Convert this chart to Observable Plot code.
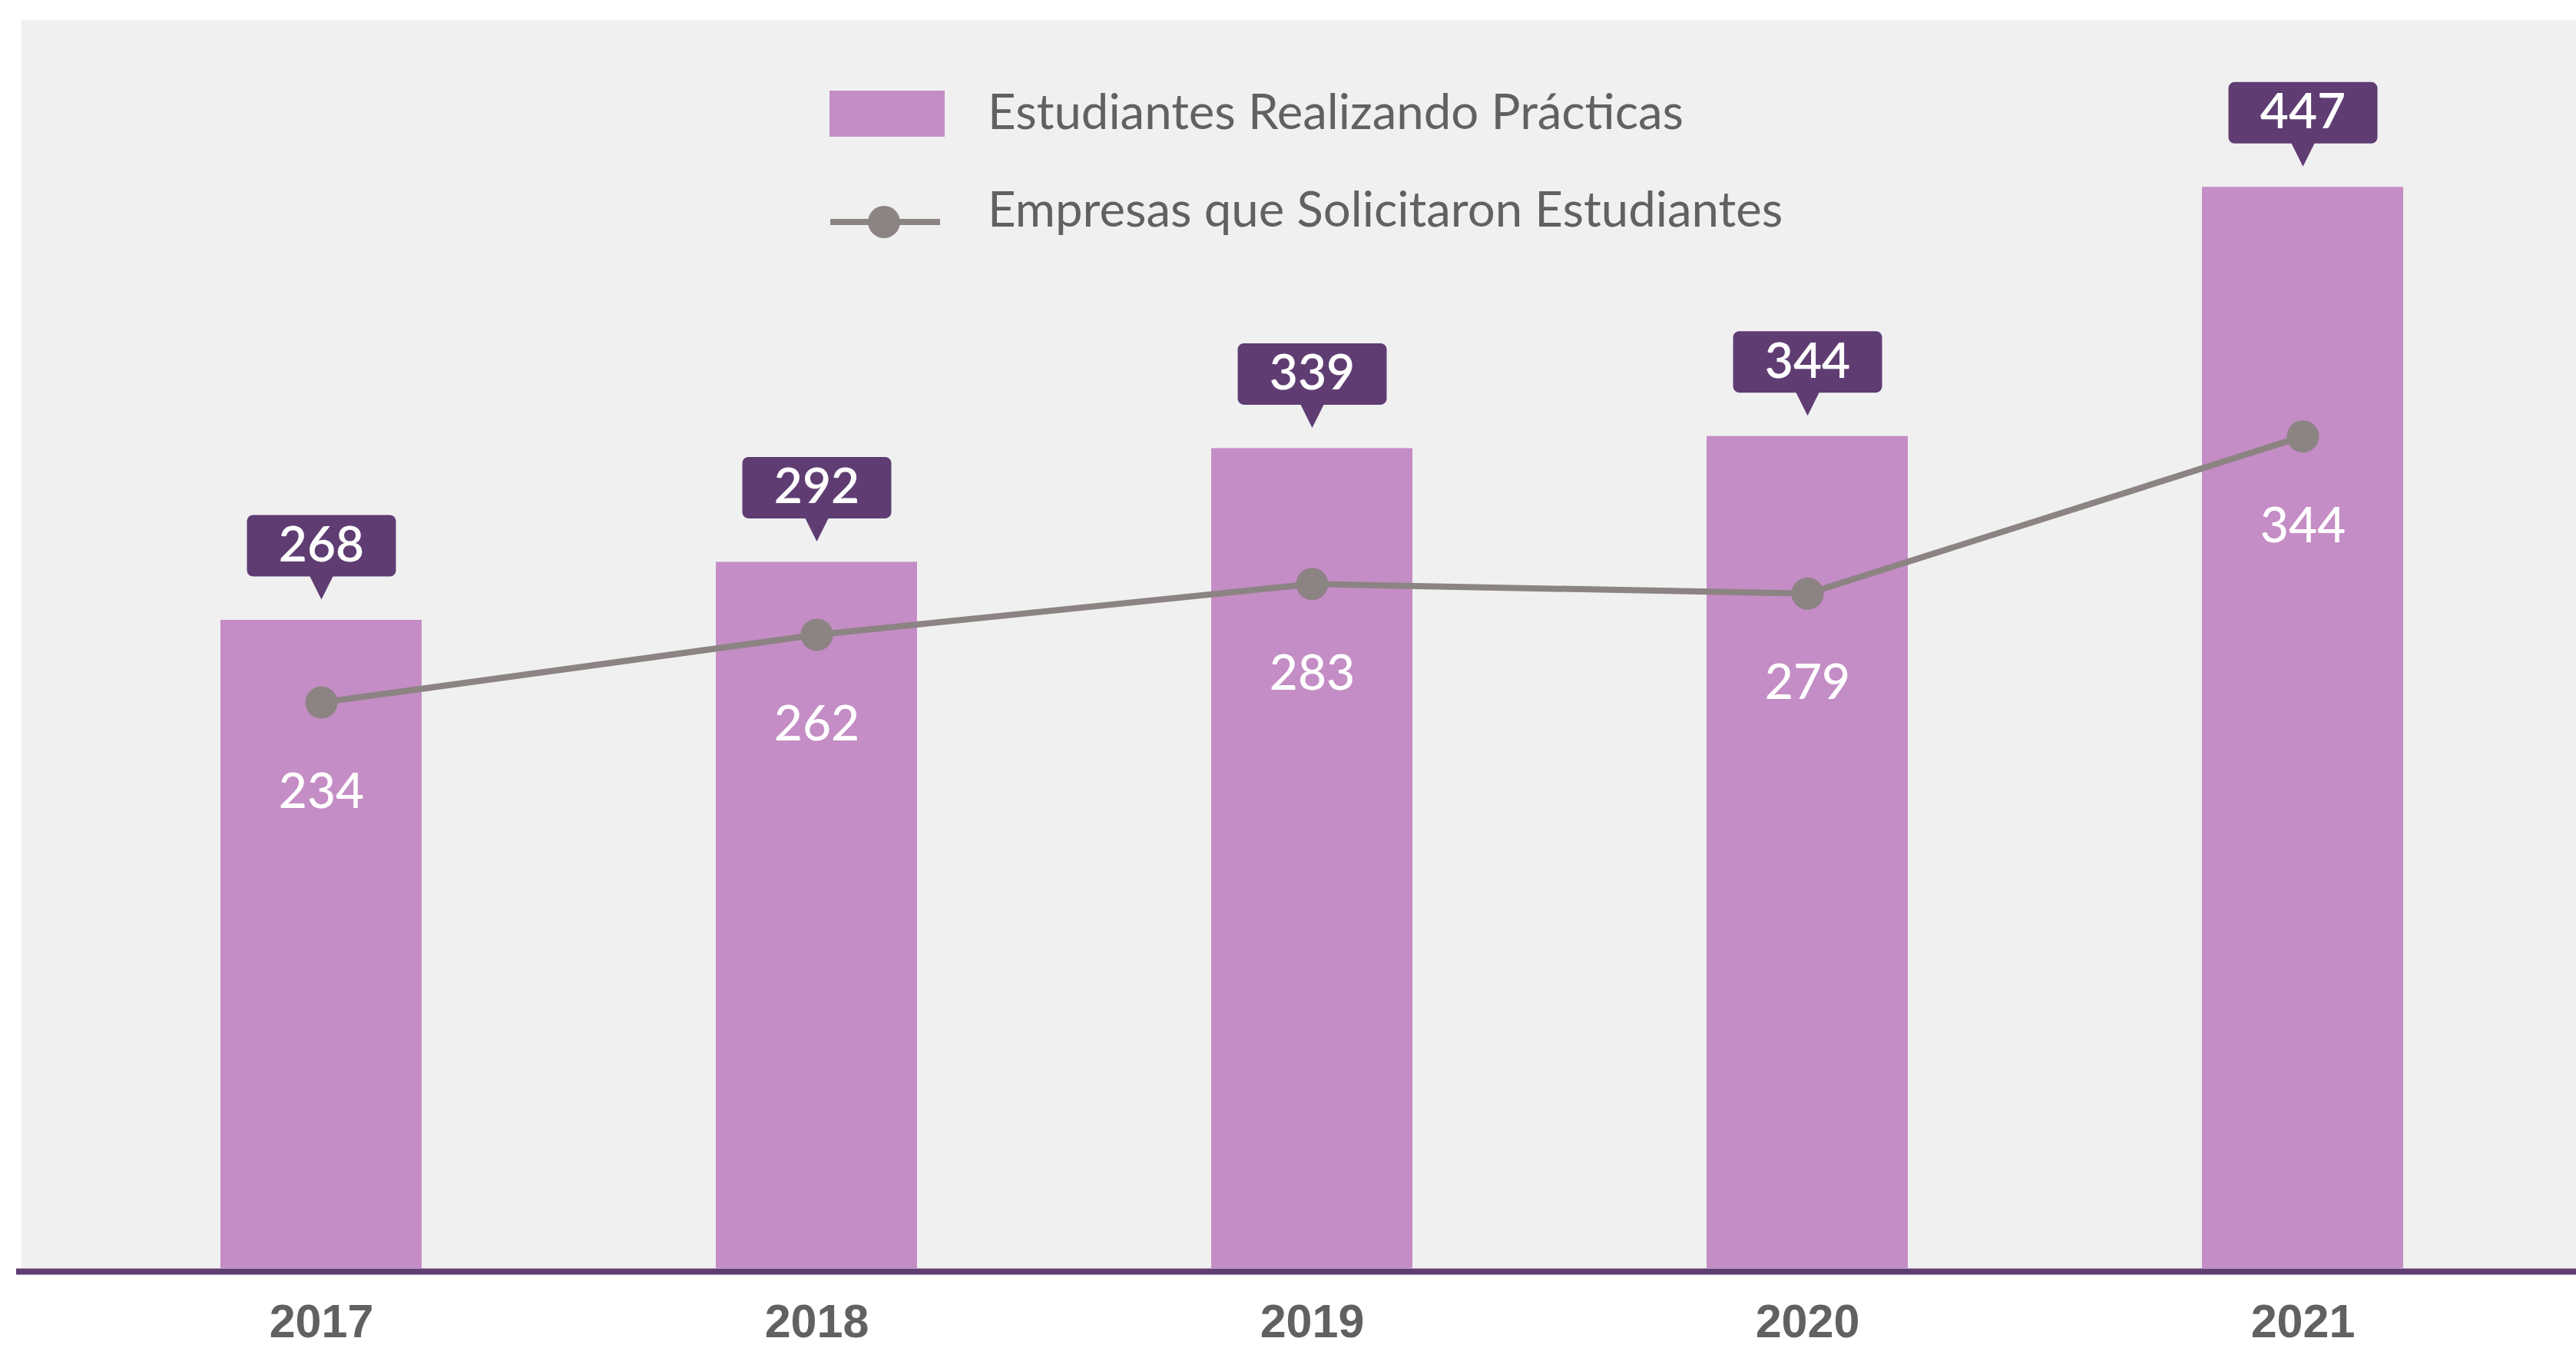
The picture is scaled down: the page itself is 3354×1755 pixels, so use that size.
<!DOCTYPE html>
<html>
<head>
<meta charset="utf-8">
<script src="https://cdn.jsdelivr.net/npm/d3@7"></script>
<script src="https://cdn.jsdelivr.net/npm/@observablehq/plot@0.6"></script>
<style>
  html, body { margin: 0; padding: 0; background: #ffffff; }
  #wrap { position: relative; width: 3354px; height: 1755px; overflow: hidden; }
  #legend { position: absolute; left: 0; top: 0; pointer-events: none; }
</style>
</head>
<body>
<div id="wrap"><div id="chart"></div><svg id="legend" width="3354" height="400"></svg></div>
<script>
// ---- data ----
const years = ["2017", "2018", "2019", "2020", "2021"];
const students = [268, 292, 339, 344, 447];   // Estudiantes Realizando Prácticas
const companies = [234, 262, 283, 279, 344];  // Empresas que Solicitaron Estudiantes
const seriesNames = ["Estudiantes Realizando Prácticas", "Empresas que Solicitaron Estudiantes"];

const data = years.map((year, i) => ({year, students: students[i], companies: companies[i]}));

// ---- styles ----
const PURPLE = "#5f3d73";
const BAR = "#c48dc5";
const LINE = "#8c8383";
const BG = "#f0f0f0";
const TEXT = "#616161";
const NUMFONT = "Lato";

// callout shape (tip at origin, box above)
const callout = {
  draw(ctx) {
    const w = 97, r = 8, tipH = 30, boxH = 80, hw = 15;
    const yb = -tipH, yt = -tipH - boxH;
    ctx.moveTo(0, 0);
    ctx.lineTo(hw, yb);
    ctx.lineTo(w - r, yb);
    ctx.arcTo(w, yb, w, yb - r, r);
    ctx.lineTo(w, yt + r);
    ctx.arcTo(w, yt, w - r, yt, r);
    ctx.lineTo(-w + r, yt);
    ctx.arcTo(-w, yt, -w, yt + r, r);
    ctx.lineTo(-w, yb - r);
    ctx.arcTo(-w, yb, -w + r, yb, r);
    ctx.lineTo(-hw, yb);
    ctx.closePath();
  }
};

const chart = Plot.plot({
  width: 3354,
  height: 1755,
  marginTop: 26,
  marginBottom: 104,
  marginLeft: 94,
  marginRight: 32,
  style: {background: "transparent", fontFamily: NUMFONT, overflow: "visible"},
  x: {domain: years, paddingInner: 0.594, paddingOuter: 0.297, label: null},
  y: {domain: [0, 516], axis: null},
  marks: [
    Plot.frame({fill: BG, stroke: null, insetLeft: -67, insetRight: -32}),
    Plot.barY(data, {x: "year", y: "students", fill: BAR}),
    Plot.ruleY([0], {stroke: PURPLE, strokeWidth: 8, insetLeft: -73, insetRight: -32, dy: 4}),
    Plot.axisX({tickSize: 0, tickPadding: 46, fontSize: 61, fontWeight: "bold", fontFamily: "Liberation Sans", color: TEXT, label: null}),
    Plot.line(data, {x: "year", y: "companies", stroke: LINE, strokeWidth: 8}),
    Plot.dot(data, {x: "year", y: "companies", r: 21, fill: LINE, stroke: "none"}),
    Plot.text(data, {x: "year", y: "companies", text: d => String(d.companies), dy: 117, fill: "white", fontSize: 64, fontWeight: 500, fontFamily: NUMFONT}),
    Plot.dot(data, {x: "year", y: "students", symbol: callout, r: 10, fill: PURPLE, stroke: "none", dy: -27}),
    Plot.text(data, {x: "year", y: "students", text: d => String(d.students), dy: -97, fill: "white", fontSize: 64, fontWeight: 600, fontFamily: NUMFONT})
  ]
});
document.getElementById("chart").append(chart);

// ---- legend (overlay) ----
const lg = d3.select("#legend");
lg.append("rect").attr("x", 1080).attr("y", 118).attr("width", 150).attr("height", 60).attr("fill", BAR);
lg.append("text").attr("x", 1286).attr("y", 168).text(seriesNames[0])
  .attr("fill", TEXT).attr("font-family", NUMFONT).attr("font-size", 63.5);
lg.append("line").attr("x1", 1081).attr("x2", 1224).attr("y1", 289).attr("y2", 289)
  .attr("stroke", LINE).attr("stroke-width", 8);
lg.append("circle").attr("cx", 1151).attr("cy", 289).attr("r", 21).attr("fill", LINE);
lg.append("text").attr("x", 1286).attr("y", 295).text(seriesNames[1])
  .attr("fill", TEXT).attr("font-family", NUMFONT).attr("font-size", 63.5);
</script>
</body>
</html>
